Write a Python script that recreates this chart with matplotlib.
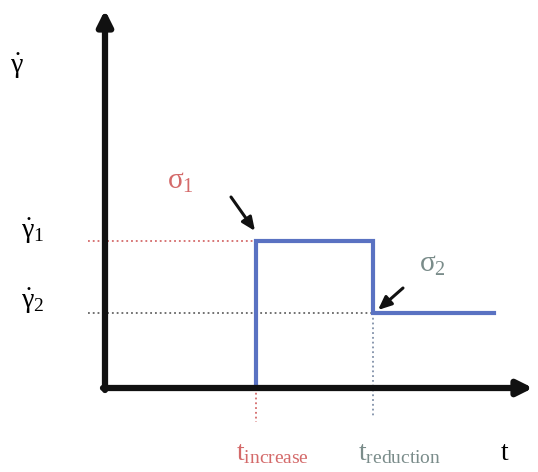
import numpy as np
import matplotlib.pyplot as plt

plt.rcParams['font.family'] = ['Liberation Serif', 'DejaVu Serif']
plt.rcParams['mathtext.fontset'] = 'custom'
plt.rcParams['mathtext.rm'] = 'Liberation Serif'
plt.rcParams['mathtext.it'] = 'Liberation Serif'
plt.rcParams['mathtext.bf'] = 'Liberation Serif:bold'

# Dados (unidades arbitrárias, origem no cruzamento dos eixos)
t_increase = 151
t_reduction = 268
t_end = 389
gamma1 = 147
gamma2 = 75

t_perfil = [t_increase, t_increase, t_reduction, t_reduction, t_end]
gamma_perfil = [0, gamma1, gamma1, gamma2, gamma2]

azul = '#5a72c2'
vermelho = '#d46a6a'
cinza = '#7a8c8a'

fig = plt.figure(figsize=(5.38, 4.72), dpi=100)
ax = fig.add_axes([0, 0, 1, 1])
ax.set_xlim(-105, 433)
ax.set_ylim(-84, 388)
ax.axis('off')

# Eixos com setas
seta_eixo = dict(arrowstyle='-|>,head_length=0.9,head_width=0.45', lw=4.5,
                 color='#111111', shrinkA=0, shrinkB=0)
ax.annotate('', xy=(0, 378), xytext=(0, -2), arrowprops=seta_eixo)
ax.annotate('', xy=(428, 0), xytext=(-2, 0), arrowprops=seta_eixo)

# Linhas pontilhadas de referência
ax.plot([-17, t_increase], [gamma1, gamma1], ':', color=vermelho, lw=1.3)
ax.plot([-17, t_reduction], [gamma2, gamma2], ':', color='#666666', lw=1.3)
ax.plot([t_increase, t_increase], [0, -34], ':', color=vermelho, lw=1.3)
ax.plot([t_reduction, t_reduction], [gamma2, -30], ':', color='#8090a8', lw=1.3)

# Perfil da taxa de cisalhamento
ax.plot(t_perfil, gamma_perfil, '-', color=azul, lw=3, solid_joinstyle='miter')

# Setas indicando as tensões
seta_tensao = dict(arrowstyle='-|>,head_length=0.8,head_width=0.35', lw=2.2,
                   color='#111111', shrinkA=0, shrinkB=0)
ax.annotate('', xy=(t_increase - 1, gamma1 + 10), xytext=(t_increase - 25, gamma1 + 44),
            arrowprops=seta_tensao)
ax.annotate('', xy=(t_reduction + 5, gamma2 + 3), xytext=(t_reduction + 30, gamma2 + 25),
            arrowprops=seta_tensao)

# Textos
ax.text(-95, 322, r'$\dot{\gamma}$', fontsize=20, ha='left', va='center')
ax.text(-84, 157, r'$\dot{\gamma}_1$', fontsize=20, ha='left', va='center')
ax.text(-84, 87, r'$\dot{\gamma}_2$', fontsize=20, ha='left', va='center')
ax.text(62, 206, r'$\sigma_1$', fontsize=21, color=vermelho, ha='left', va='center')
ax.text(314, 123, r'$\sigma_2$', fontsize=21, color=cinza, ha='left', va='center')
ax.text(t_increase + 16, -66, r'$\mathrm{t}_{\mathrm{increase}}$', fontsize=20, color=vermelho,
        ha='center', va='center')
ax.text(t_reduction + 27, -66, r'$\mathrm{t}_{\mathrm{reduction}}$', fontsize=20, color=cinza,
        ha='center', va='center')
ax.text(400, -66, 't', fontsize=20, ha='center', va='center')

fig.savefig('out.png', dpi=100, facecolor='white')
